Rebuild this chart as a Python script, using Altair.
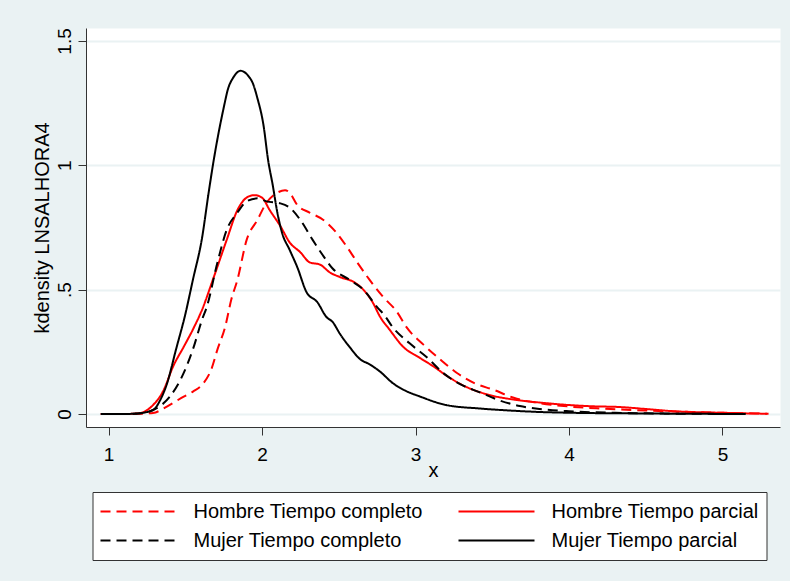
import altair as alt
import pandas as pd

# ---- data ----
series_names = ["Hombre Tiempo completo", "Hombre Tiempo parcial",
                "Mujer Tiempo completo", "Mujer Tiempo parcial"]
series_colors = ["#FF0000", "#FF0000", "#000000", "#000000"]
series_dash = [[10, 6], [1, 0], [10, 6], [1, 0]]

# Hombre Tiempo completo (red dashed)
hc_x = [0.95, 1.10, 1.20, 1.29, 1.38, 1.49, 1.55, 1.62, 1.67, 1.71, 1.76, 1.80, 1.84, 1.90,
        1.97, 2.03, 2.10, 2.15, 2.18, 2.23, 2.31, 2.40, 2.49, 2.55, 2.62, 2.70, 2.79, 2.88,
        2.94, 3.05, 3.16, 3.27, 3.38, 3.51, 3.64, 3.81, 4.00, 4.20, 4.50, 4.80, 5.00, 5.30]
hc_y = [0.0, 0.0, 0.001, 0.004, 0.03, 0.07, 0.09, 0.125, 0.18, 0.26, 0.35, 0.46, 0.54, 0.70,
        0.78, 0.85, 0.89, 0.90, 0.89, 0.84, 0.81, 0.78, 0.725, 0.675, 0.61, 0.54, 0.47, 0.41,
        0.35, 0.28, 0.22, 0.165, 0.125, 0.097, 0.065, 0.043, 0.03, 0.022, 0.014, 0.008, 0.005, 0.001]

# Hombre Tiempo parcial (red solid)
hp_x = [0.95, 1.10, 1.20, 1.28, 1.36, 1.42, 1.49, 1.55, 1.61, 1.68, 1.77, 1.84, 1.90, 1.95,
        2.00, 2.05, 2.12, 2.18, 2.25, 2.31, 2.38, 2.44, 2.51, 2.60, 2.66, 2.72, 2.77, 2.83,
        2.92, 3.03, 3.12, 3.20, 3.31, 3.46, 3.64, 3.81, 4.00, 4.15, 4.33, 4.50, 4.66, 4.98, 5.29]
hp_y = [0.0, 0.0, 0.003, 0.03, 0.097, 0.19, 0.27, 0.34, 0.42, 0.54, 0.70, 0.82, 0.87, 0.88,
        0.87, 0.82, 0.755, 0.69, 0.65, 0.61, 0.60, 0.57, 0.55, 0.53, 0.50, 0.45, 0.39, 0.34,
        0.27, 0.225, 0.19, 0.155, 0.115, 0.08, 0.058, 0.046, 0.036, 0.031, 0.028, 0.02, 0.012, 0.005, 0.001]

# Mujer Tiempo completo (black dashed)
mc_x = [0.95, 1.10, 1.20, 1.29, 1.40, 1.49, 1.55, 1.61, 1.64, 1.71, 1.77, 1.84, 1.90, 1.97,
        2.03, 2.12, 2.18, 2.25, 2.33, 2.40, 2.46, 2.57, 2.66, 2.75, 2.80, 2.85, 2.96, 3.07,
        3.18, 3.29, 3.42, 3.55, 3.68, 3.81, 4.00, 4.30, 4.60, 5.15]
mc_y = [0.0, 0.0, 0.002, 0.016, 0.07, 0.165, 0.26, 0.38, 0.43, 0.61, 0.74, 0.81, 0.855, 0.867,
        0.855, 0.847, 0.83, 0.78, 0.70, 0.635, 0.585, 0.54, 0.50, 0.43, 0.395, 0.35, 0.285, 0.23,
        0.165, 0.12, 0.087, 0.054, 0.032, 0.02, 0.011, 0.005, 0.002, 0.0]

# Mujer Tiempo parcial (black solid)
mp_x = [0.95, 1.10, 1.20, 1.29, 1.34, 1.38, 1.44, 1.50, 1.55, 1.61, 1.65, 1.68, 1.75, 1.78,
        1.81, 1.86, 1.91, 1.94, 1.97, 2.01, 2.04, 2.07, 2.10, 2.13, 2.18, 2.23, 2.29, 2.36,
        2.42, 2.46, 2.51, 2.57, 2.64, 2.70, 2.77, 2.85, 2.93, 3.03, 3.20, 3.42, 3.64, 3.81,
        4.00, 4.50, 5.15]
mp_y = [0.0, 0.0, 0.003, 0.016, 0.06, 0.12, 0.26, 0.40, 0.54, 0.71, 0.88, 1.0, 1.23, 1.31,
        1.35, 1.38, 1.36, 1.33, 1.27, 1.16, 1.02, 0.92, 0.81, 0.73, 0.66, 0.59, 0.49, 0.45,
        0.39, 0.37, 0.32, 0.27, 0.22, 0.20, 0.17, 0.125, 0.095, 0.07, 0.036, 0.022, 0.013, 0.008,
        0.005, 0.002, 0.0]

x_ticks = [1, 2, 3, 4, 5]
y_ticks = [0, 0.5, 1, 1.5]
y_tick_labels = ["0", ".5", "1", "1.5"]

# ---- table built from the arrays ----
frames = []
for name, xs, ys in zip(series_names, [hc_x, hp_x, mc_x, mp_x], [hc_y, hp_y, mc_y, mp_y]):
    frames.append(pd.DataFrame({"x": xs, "y": ys, "serie": name}))
df = pd.concat(frames, ignore_index=True)

y_label_expr = " : ".join(
    f"datum.value == {v} ? '{l}'" for v, l in zip(y_ticks, y_tick_labels)
) + " : datum.label"

FONT = "Liberation Sans"

legend = alt.Legend(
    orient="none", legendX=6.5, legendY=464, columns=2, direction="horizontal",
    symbolType="stroke", symbolSize=5776, symbolStrokeWidth=2, clipHeight=25,
    labelFontSize=20, labelFont=FONT, labelColor="black", labelLimit=400,
    labelOffset=16, columnPadding=34, rowPadding=4, padding=7,
    strokeColor="#333333", fillColor="white",
)

chart = alt.Chart(df).mark_line(strokeWidth=2, interpolate="monotone").encode(
    x=alt.X("x:Q", title="x",
            scale=alt.Scale(domain=[0.8534, 5.3746], nice=False, zero=False),
            axis=alt.Axis(values=x_ticks, format="d", grid=False, labelFontSize=19,
                          labelFont=FONT, labelColor="black", labelPadding=10,
                          tickSize=8, tickColor="#333333", domainColor="#333333",
                          labelFlush=False, titleFontSize=20, titleFont=FONT,
                          titleFontWeight="normal", titleColor="black",
                          titleBaseline="alphabetic", titleY=49)),
    y=alt.Y("y:Q", title="kdensity LNSALHORA4",
            scale=alt.Scale(domain=[-0.0523, 1.552], nice=False, zero=False),
            axis=alt.Axis(values=y_ticks, labelExpr=y_label_expr, grid=True,
                          gridColor="#EAF2F3", gridWidth=2,
                          labelAngle=270, labelAlign="center", labelBaseline="alphabetic",
                          labelFontSize=19, labelFont=FONT, labelColor="black",
                          labelPadding=8, tickSize=8, tickColor="#333333",
                          domainColor="#333333", labelFlush=False, labelOverlap=False,
                          titleFontSize=20, titleFont=FONT, titleFontWeight="normal",
                          titleColor="black", titleAngle=270, titleAlign="center",
                          titleBaseline="alphabetic", titleX=-38, titleY=199.5)),
    color=alt.Color("serie:N", title=None,
                    scale=alt.Scale(domain=series_names, range=series_colors),
                    legend=legend),
    strokeDash=alt.StrokeDash("serie:N", title=None,
                              scale=alt.Scale(domain=series_names, range=series_dash),
                              legend=legend),
).properties(
    width=694, height=399,
    autosize=alt.AutoSizeParams(type="none"),
    padding={"left": 86, "top": 28, "right": 10, "bottom": 154},
).configure(
    background="#EAF2F3", font=FONT,
).configure_view(
    fill="white", stroke="transparent",
)

chart.save("out.html", embed_options={"renderer": "svg", "actions": False})
